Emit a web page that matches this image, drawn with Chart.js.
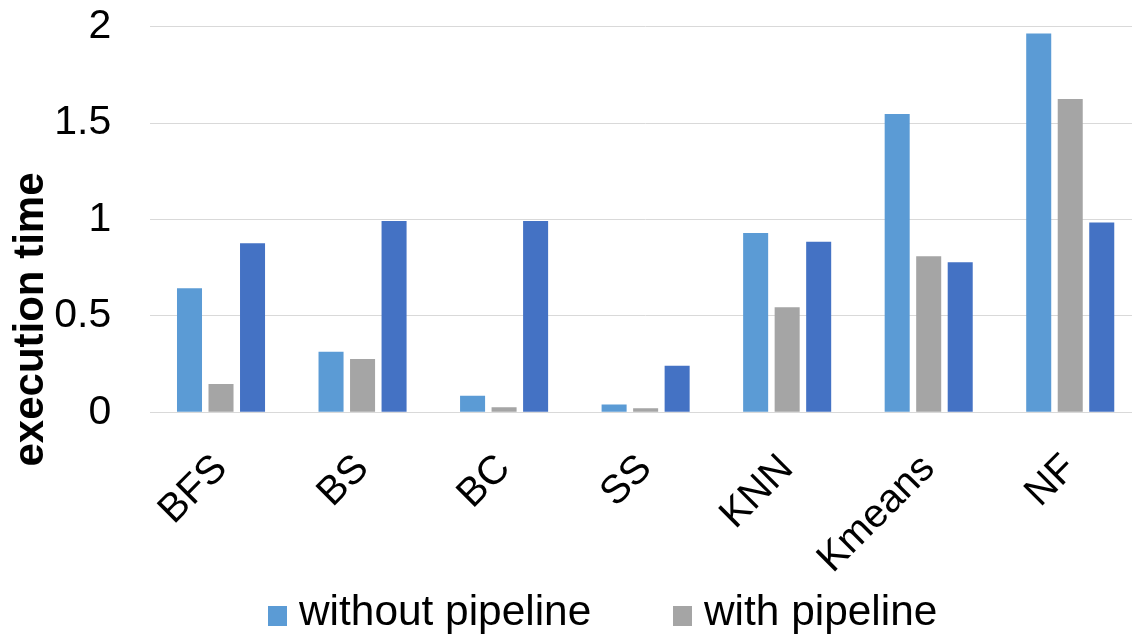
<!DOCTYPE html>
<html>
<head>
<meta charset="utf-8">
<script src="https://cdn.jsdelivr.net/npm/chart.js@4.4.1/dist/chart.umd.min.js"></script>
<style>
  html, body { margin: 0; padding: 0; overflow: hidden; background: #fff; }
  #wrap { position: relative; width: 1132px; height: 641px; overflow: hidden; }
  #c { position: absolute; left: 0; top: 0; }
  #legend { position: absolute; left: 0; top: 0; width: 1132px; height: 641px; pointer-events: none;
            font-family: "Liberation Sans", Arial, sans-serif; font-size: 42.4px; color: #000; }
  #legend .box { position: absolute; width: 19px; height: 20px; }
  #legend .txt { position: absolute; white-space: nowrap; line-height: 48px; }
</style>
</head>
<body>
<div id="wrap">
  <canvas id="c" width="1141" height="641"></canvas>
  <div id="legend"></div>
</div>
<script>
// Benchmarks and measured execution times
const categories = ['BFS', 'BS', 'BC', 'SS', 'KNN', 'Kmeans', 'NF'];
const withoutPipeline = [0.643, 0.314, 0.086, 0.041, 0.930, 1.547, 1.965];
const withPipeline    = [0.147, 0.276, 0.026, 0.021, 0.545, 0.809, 1.625];
const thirdSeries     = [0.877, 0.992, 0.992, 0.242, 0.885, 0.778, 0.984];
const yTicks = [0, 0.5, 1, 1.5, 2];
const yTickLabels = ['0', '0.5', '1', '1.5', '2'];
const seriesLabels = ['without pipeline', 'with pipeline', 'series 3'];
const seriesColors = ['#5B9BD5', '#A5A5A5', '#4472C4'];
const legendSeries = [0, 1];

const FONT = '"Liberation Sans", Arial, sans-serif';
const GRID = '#D9D9D9';

const seriesValues = [withoutPipeline, withPipeline, thirdSeries];
const datasets = seriesValues.map((vals, i) => ({
  label: seriesLabels[i],
  data: vals,
  backgroundColor: seriesColors[i],
  borderWidth: 0,
  categoryPercentage: 0.668,
  barPercentage: 0.794
}));

// Rotated y-axis title, placed to the left of the tick labels
const yTitlePlugin = {
  id: 'yTitle',
  afterDraw(chart) {
    const ctx = chart.ctx;
    ctx.save();
    ctx.font = 'bold 42px ' + FONT;
    ctx.fillStyle = '#000';
    ctx.translate(43, 319.5);
    ctx.rotate(-Math.PI / 2);
    ctx.textAlign = 'center';
    ctx.textBaseline = 'alphabetic';
    ctx.fillText('execution time', 0, 0);
    ctx.restore();
  }
};

const chart = new Chart(document.getElementById('c'), {
  type: 'bar',
  data: { labels: categories, datasets },
  plugins: [yTitlePlugin],
  options: {
    responsive: false,
    animation: false,
    devicePixelRatio: 1,
    layout: { padding: { top: 26.7, left: 0, right: 0, bottom: 0 } },
    plugins: { legend: { display: false }, tooltip: { enabled: false } },
    scales: {
      x: {
        grid: { display: false },
        border: { display: true, color: GRID, width: 1 },
        ticks: {
          color: '#000',
          font: { family: FONT, size: 40 },
          minRotation: 45,
          maxRotation: 45,
          padding: 25,
          autoSkip: false
        },
        afterFit(scale) {
          scale.height = 641 - 412.3;
          scale.paddingLeft = 0;
          scale.paddingRight = 0;
        }
      },
      y: {
        min: 0,
        max: 2,
        grid: { color: GRID, lineWidth: 1, drawTicks: false },
        border: { display: false },
        ticks: {
          color: '#000',
          font: { family: FONT, size: 41 },
          padding: 39,
          callback(value) {
            const i = yTicks.indexOf(value);
            return i >= 0 ? yTickLabels[i] : String(value);
          }
        },
        afterBuildTicks(scale) {
          scale.ticks = yTicks.map(v => ({ value: v }));
        },
        afterFit(scale) {
          scale.width = 150.25;
          scale.paddingTop = 0;
          scale.paddingBottom = 0;
        }
      }
    }
  }
});

// Legend built from the chart's own datasets
const legendX = [268, 673];
const legendEl = document.getElementById('legend');
legendSeries.forEach((idx, k) => {
  const ds = chart.data.datasets[idx];
  const box = document.createElement('div');
  box.className = 'box';
  box.style.left = legendX[k] + 'px';
  box.style.top = '606px';
  box.style.background = ds.backgroundColor;
  const txt = document.createElement('div');
  txt.className = 'txt';
  txt.style.left = (legendX[k] + 31) + 'px';
  txt.style.top = '587.3px';
  txt.textContent = ds.label;
  legendEl.appendChild(box);
  legendEl.appendChild(txt);
});
</script>
</body>
</html>
